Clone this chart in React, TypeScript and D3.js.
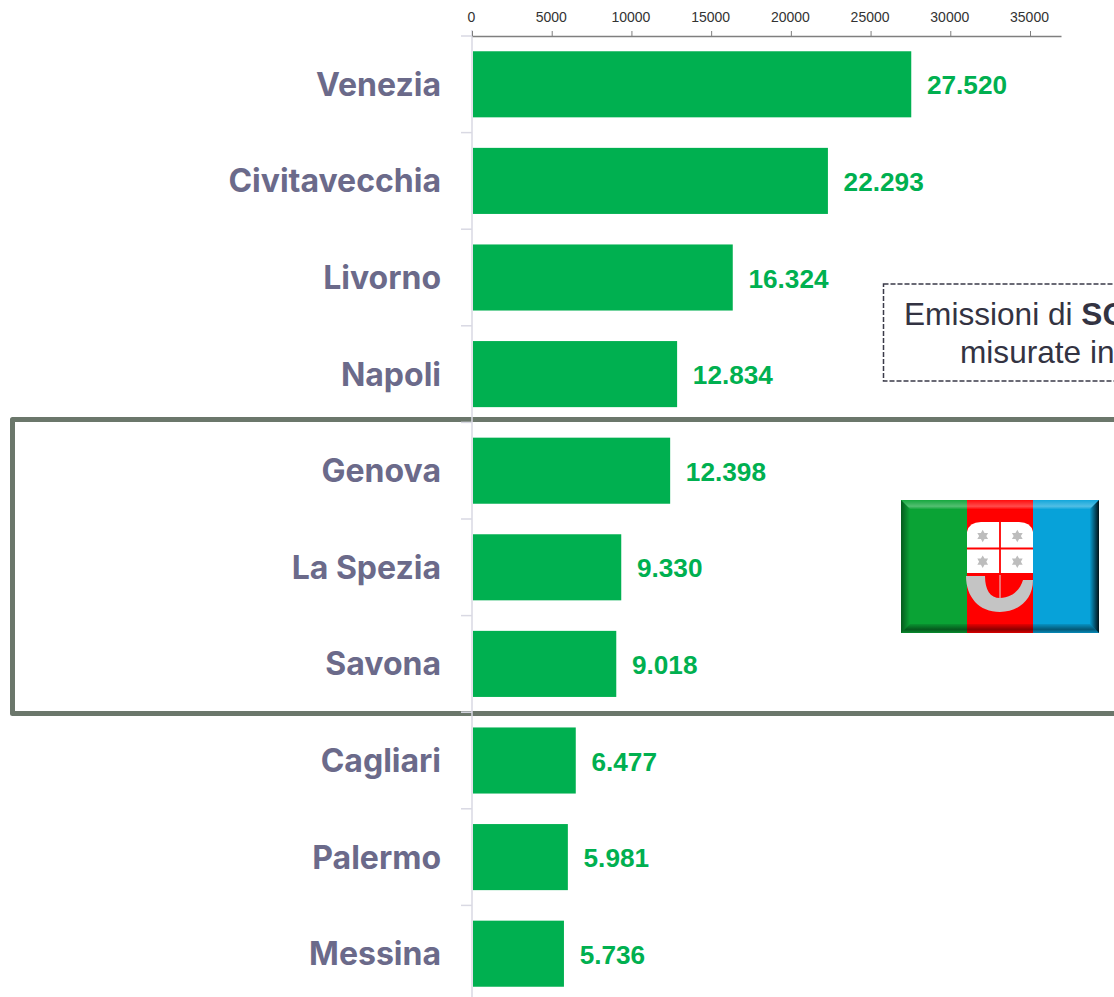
import React, { useEffect, useRef } from 'react';
import * as d3 from 'd3';

const width = 1114;
const height = 997;

const cities = ['Venezia', 'Civitavecchia', 'Livorno', 'Napoli', 'Genova', 'La Spezia', 'Savona', 'Cagliari', 'Palermo', 'Messina'];
const emissions = [27520, 22293, 16324, 12834, 12398, 9330, 9018, 6477, 5981, 5736];
const xTicks = [0, 5000, 10000, 15000, 20000, 25000, 30000, 35000];

const green = '#00b050';
const it = d3.formatLocale({ decimal: ',', thousands: '.', grouping: [3], currency: ['', ''] });
const fmt = it.format(',d');

export default function App() {
  const ref = useRef<SVGSVGElement>(null);

  useEffect(() => {
    const svg = d3.select(ref.current);
    svg.selectAll('*').remove();

    const x = d3.scaleLinear().domain([0, 36944]).range([472, 1061]);
    const y = d3.scaleBand().domain(cities).range([36, 1002]).paddingInner(0.316).paddingOuter(0.158);
    const step = y.step();

    // riquadro Liguria, sotto le barre
    svg.append('rect')
      .attr('x', 12.5).attr('y', 419.5).attr('width', 1200).attr('height', 294)
      .attr('fill', 'none').attr('stroke', '#6b776b').attr('stroke-width', 5).attr('stroke-linejoin', 'round');

    // asse categorie
    svg.append('line').attr('x1', 472).attr('x2', 472).attr('y1', 30).attr('y2', 997)
      .attr('stroke', '#d9d9e3').attr('stroke-width', 1.5);
    svg.selectAll('.ytick').data(d3.range(cities.length + 1)).enter().append('line')
      .attr('class', 'ytick')
      .attr('x1', 461).attr('x2', 472)
      .attr('y1', (d) => 36 + d * step).attr('y2', (d) => 36 + d * step)
      .attr('stroke', '#d9d9e3').attr('stroke-width', 1.5);

    // asse valori
    const axis = svg.append('g').attr('transform', 'translate(0,36)')
      .call(d3.axisTop(x).tickValues(xTicks).tickFormat(d3.format('d')).tickSize(5).tickSizeOuter(0).tickPadding(9));
    axis.select('.domain').attr('stroke', '#7f7f7f').attr('stroke-width', 1.5);
    axis.selectAll('.tick line').attr('stroke', '#7f7f7f');
    axis.selectAll('text').attr('dx', -1).attr('font-family', '"Liberation Sans"').attr('font-size', 14).attr('fill', '#333');

    // barre
    svg.selectAll('.bar').data(cities).enter().append('rect')
      .attr('class', 'bar')
      .attr('x', 473)
      .attr('y', (d) => y(d))
      .attr('width', (d, i) => x(emissions[i]) - 472.5)
      .attr('height', y.bandwidth())
      .attr('fill', green);

    svg.selectAll('.val').data(cities).enter().append('text')
      .attr('class', 'val')
      .attr('x', (d, i) => x(emissions[i]) + 16.2)
      .attr('y', (d) => y(d) + y.bandwidth() / 2 + 10)
      .attr('font-family', '"Liberation Sans"').attr('font-weight', 700).attr('font-size', 26.2)
      .attr('fill', green)
      .text((d, i) => fmt(emissions[i]));

    svg.selectAll('.cat').data(cities).enter().append('text')
      .attr('class', 'cat')
      .attr('x', 441)
      .attr('y', (d) => y(d) + y.bandwidth() / 2 + 11.5)
      .attr('text-anchor', 'end')
      .attr('font-family', 'Inter').attr('font-weight', 700).attr('font-size', 32)
      .attr('fill', '#6b6a8a')
      .text((d) => d);

    // box testo
    svg.append('rect')
      .attr('x', 883.5).attr('y', 284).attr('width', 300).attr('height', 97)
      .attr('fill', 'none').attr('stroke', '#3a3a48').attr('stroke-width', 1.5).attr('stroke-dasharray', '5 2');
    const t1 = svg.append('text').attr('x', 904).attr('y', 325)
      .attr('font-family', '"Liberation Sans"').attr('font-size', 31.6).attr('fill', '#333342');
    t1.append('tspan').text('Emissioni di ');
    t1.append('tspan').attr('font-weight', 700).text('SO');
    svg.append('text').attr('x', 960).attr('y', 363)
      .attr('font-family', '"Liberation Sans"').attr('font-size', 31.6).attr('fill', '#333342')
      .text('misurate in');

    // bandiera Liguria
    const flag = svg.append('g');
    const stripes = [['#0aa335', 901], ['#ff0000', 967], ['#07a2d9', 1033]] as [string, number][];
    flag.selectAll('rect').data(stripes).enter().append('rect')
      .attr('x', (d) => d[1]).attr('y', 500).attr('width', 66).attr('height', 133).attr('fill', (d) => d[0]);

    flag.append('path')
      .attr('d', 'M967,532 Q969,522 981,522 L1019,522 Q1031,522 1033,532 L1033,573 L967,573 Z')
      .attr('fill', '#fff');
    flag.append('line').attr('x1', 1000).attr('x2', 1000).attr('y1', 522).attr('y2', 573).attr('stroke', '#f00').attr('stroke-width', 1.8);
    flag.append('line').attr('x1', 967).attr('x2', 1033).attr('y1', 548.5).attr('y2', 548.5).attr('stroke', '#f00').attr('stroke-width', 2);

    const star = d3.lineRadial<number>().angle((d) => (d * Math.PI) / 6).radius((d) => (d % 2 ? 3.6 : 6.2)).curve(d3.curveLinearClosed);
    const starPts = d3.range(12);
    [[982.7, 536], [1017.3, 536], [982.7, 561.7], [1017.3, 561.7]].forEach((c) => {
      flag.append('path').attr('transform', `translate(${c[0]},${c[1]})`).attr('d', star(starPts)).attr('fill', '#bdbdbd');
    });

    flag.append('path')
      .attr('d', 'M966,576 L985,576 C985,590 990,598 1000,598 C1012,598 1020,590 1023,580 L1033,580 C1033,600 1018,612 1000,612 C979,612 966,597 966,576 Z')
      .attr('fill', '#c4c4c4');
    flag.append('line').attr('x1', 1000).attr('x2', 1000).attr('y1', 575).attr('y2', 598).attr('stroke', '#ddd').attr('stroke-width', 1);

    // smusso
    const defs = svg.append('defs');
    const grad = (id: string, x2: number, y2: number, stops: [number, string, number][]) => {
      const g = defs.append('linearGradient').attr('id', id).attr('x1', 0).attr('y1', 0).attr('x2', x2).attr('y2', y2);
      stops.forEach((s) => g.append('stop').attr('offset', s[0]).attr('stop-color', s[1]).attr('stop-opacity', s[2]));
    };
    grad('bvTop', 0, 1, [[0, '#fff', 0.05], [0.7, '#fff', 0.3], [1, '#fff', 0.05]]);
    grad('bvBot', 0, 1, [[0, '#000', 0.1], [0.6, '#000', 0.45], [1, '#000', 0.15]]);
    grad('bvLeft', 1, 0, [[0, '#000', 0.45], [1, '#000', 0]]);
    grad('bvRight', 1, 0, [[0, '#000', 0.05], [1, '#000', 0.9]]);
    const l = 901, r = 1099, t = 500, b = 633, w = 9;
    const bevel = d3.line();
    flag.append('path').attr('d', bevel([[l, t], [r, t], [r - w, t + w], [l + w, t + w]]) + 'Z').attr('fill', 'url(#bvTop)');
    flag.append('path').attr('d', bevel([[l, b], [r, b], [r - w, b - w], [l + w, b - w]]) + 'Z').attr('fill', 'url(#bvBot)');
    flag.append('path').attr('d', bevel([[l, t], [l + w, t + w], [l + w, b - w], [l, b]]) + 'Z').attr('fill', 'url(#bvLeft)');
    flag.append('path').attr('d', bevel([[r, t], [r - w, t + w], [r - w, b - w], [r, b]]) + 'Z').attr('fill', 'url(#bvRight)');
  }, []);

  return <svg ref={ref} width={width} height={height} style={{ position: 'absolute', left: 0, top: 0, background: '#fff' }} />;
}
